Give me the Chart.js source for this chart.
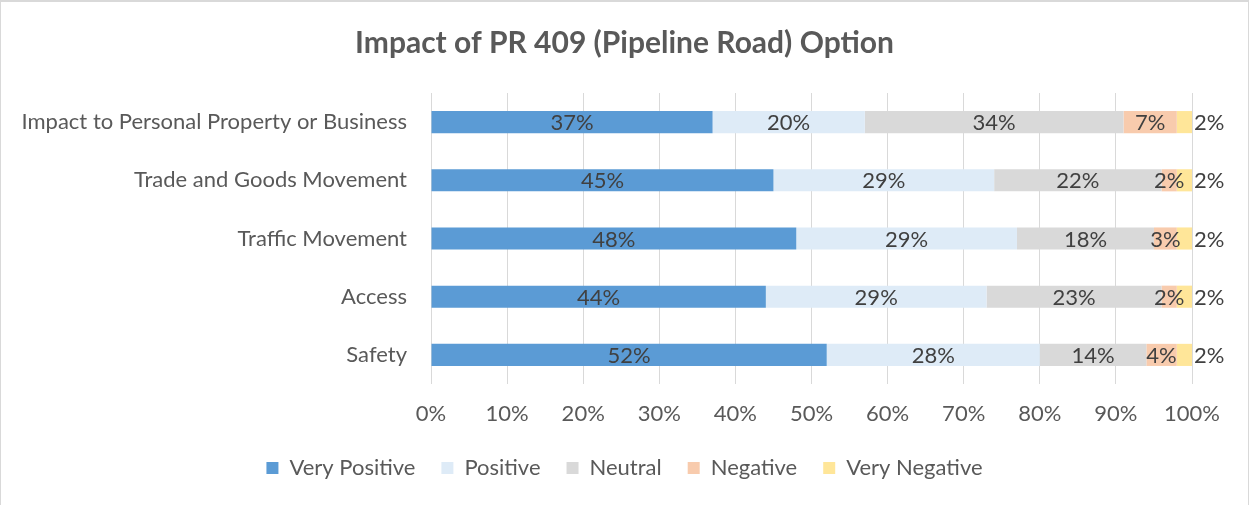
<!DOCTYPE html>
<html>
<head>
<meta charset="utf-8">
<script src="https://cdn.jsdelivr.net/npm/chart.js@4"></script>
<style>
  html, body { margin: 0; padding: 0; background: #fff; }
  #wrap {
    width: 1249px; height: 505px; box-sizing: border-box;
    border: 1px solid #d9d9d9; border-bottom: none; border-top-width: 2px;
  }
  canvas { display: block; }
</style>
</head>
<body>
<div id="wrap"><canvas id="chart" width="1247" height="503"></canvas></div>
<script>
// Data
const categories = [
    'Impact to Personal Property or Business',
    'Trade and Goods Movement',
    'Traffic Movement',
    'Access',
    'Safety'
];
const veryPositive = [37, 45, 48, 44, 52];
const positive     = [20, 29, 29, 29, 28];
const neutral      = [34, 22, 18, 23, 14];
const negative     = [7, 2, 3, 2, 4];
const veryNegative = [2, 2, 2, 2, 2];
const xTicks = [0, 10, 20, 30, 40, 50, 60, 70, 80, 90, 100];

const seriesNames = ['Very Positive', 'Positive', 'Neutral', 'Negative', 'Very Negative'];
const seriesColors = ['#5B9BD5', '#DEEBF7', '#D9D9D9', '#F8CBAD', '#FFE699'];
const seriesValues = [veryPositive, positive, neutral, negative, veryNegative];

const FONT = 'Lato, "Open Sans", sans-serif';
const TEXT = '#595959';

// Draws the percentage labels on the bars (last series outside the bar end)
const barLabels = {
    id: 'barLabels',
    afterDatasetsDraw(chart) {
        const ctx = chart.ctx;
        ctx.save();
        ctx.font = '22px ' + FONT;
        ctx.fillStyle = '#404040';
        ctx.textBaseline = 'middle';
        const last = chart.data.datasets.length - 1;
        chart.data.datasets.forEach((ds, i) => {
            const meta = chart.getDatasetMeta(i);
            meta.data.forEach((bar, j) => {
                const txt = ds.data[j] + '%';
                if (i === last) {
                    ctx.textAlign = 'left';
                    ctx.fillText(txt, bar.x + 2, bar.y + 1);
                } else {
                    ctx.textAlign = 'center';
                    ctx.fillText(txt, (bar.x + bar.base) / 2, bar.y + 1);
                }
            });
        });
        ctx.restore();
    }
};

new Chart(document.getElementById('chart').getContext('2d'), {
    type: 'bar',
    data: {
        labels: categories,
        datasets: seriesNames.map((name, i) => ({
            label: name,
            data: seriesValues[i],
            backgroundColor: seriesColors[i],
            borderWidth: 0,
            barPercentage: 0.38,
            categoryPercentage: 1
        }))
    },
    options: {
        indexAxis: 'y',
        responsive: false,
        animation: false,
        layout: { padding: { top: 8, left: 10, right: 10, bottom: 16 } },
        scales: {
            x: {
                stacked: true,
                min: 0,
                max: 100,
                afterBuildTicks(scale) {
                    scale.ticks = xTicks.map(v => ({ value: v }));
                },
                afterFit(scale) { scale.height = 47; },
                grid: { color: '#D9D9D9', lineWidth: 1, drawTicks: false },
                border: { display: false },
                ticks: {
                    padding: 17,
                    color: TEXT,
                    font: { family: FONT, size: 22 },
                    callback: v => v + '%'
                }
            },
            y: {
                stacked: true,
                afterFit(scale) { scale.width = 420; },
                grid: { display: false },
                border: { display: false },
                ticks: {
                    padding: 16,
                    color: TEXT,
                    font: { family: FONT, size: 22 }
                }
            },
            // empty axis that only keeps room on the right for the outside labels
            yRight: {
                type: 'category',
                position: 'right',
                afterFit(scale) { scale.width = 46; },
                grid: { display: false },
                border: { display: false },
                ticks: { display: false }
            }
        },
        plugins: {
            title: {
                display: true,
                text: 'Impact of PR 409 (Pipeline Road) Option',
                color: TEXT,
                font: { family: FONT, size: 30, weight: 'bold' },
                padding: { top: 15, bottom: 32 }
            },
            legend: {
                position: 'bottom',
                labels: {
                    color: TEXT,
                    font: { family: FONT, size: 22 },
                    boxWidth: 12,
                    boxHeight: 12,
                    padding: 26
                }
            },
            tooltip: { enabled: false }
        }
    },
    plugins: [barLabels]
});
</script>
</body>
</html>
